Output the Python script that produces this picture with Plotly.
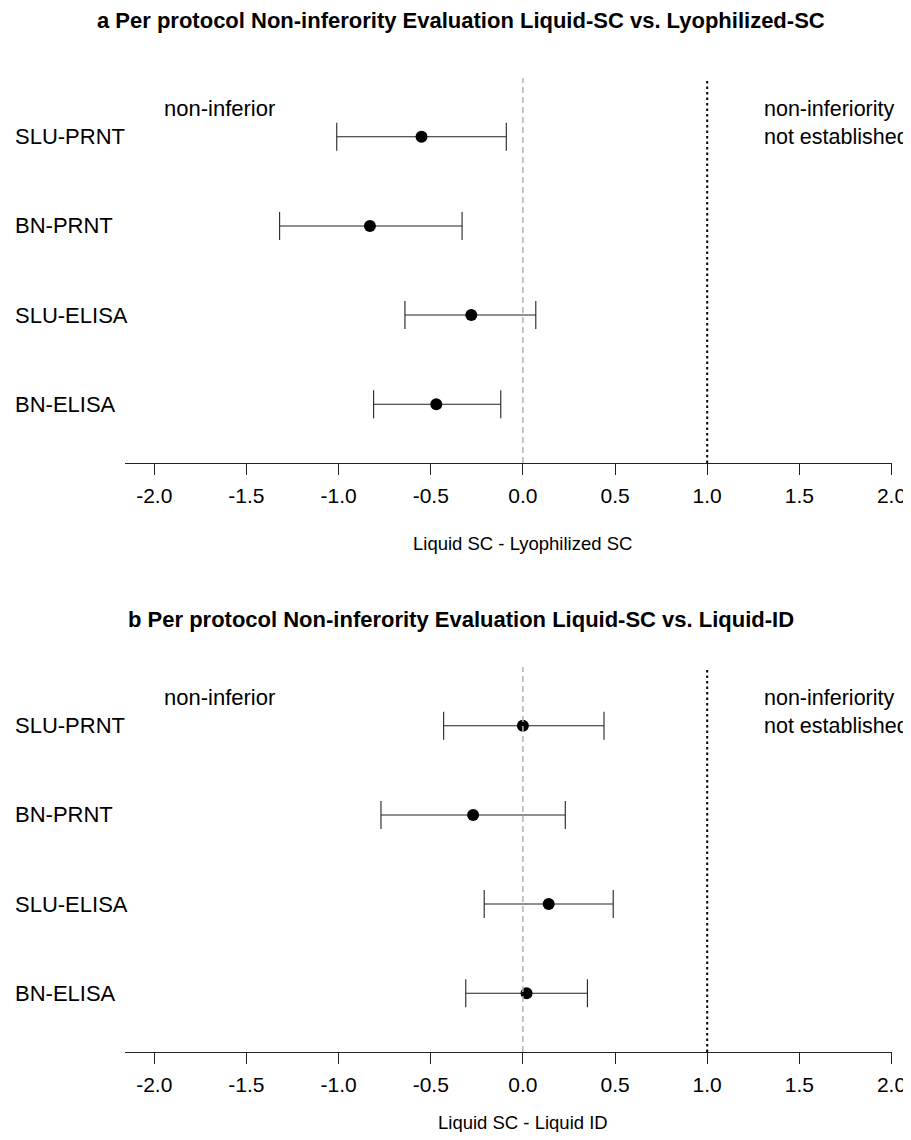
import plotly.graph_objects as go

# ---- data ----
categories = ["SLU-PRNT", "BN-PRNT", "SLU-ELISA", "BN-ELISA"]

a_est = [-0.55, -0.83, -0.28, -0.47]
a_lo = [-1.01, -1.32, -0.64, -0.81]
a_hi = [-0.09, -0.33, 0.07, -0.12]

b_est = [0.00, -0.27, 0.14, 0.02]
b_lo = [-0.43, -0.77, -0.21, -0.31]
b_hi = [0.44, 0.23, 0.49, 0.35]

tick_vals = [-2.0, -1.5, -1.0, -0.5, 0.0, 0.5, 1.0, 1.5, 2.0]
tick_labels = ["-2.0", "-1.5", "-1.0", "-0.5", "0.0", "0.5", "1.0", "1.5", "2.0"]

titles = ["a Per protocol Non-inferority Evaluation Liquid-SC vs. Lyophilized-SC",
          "b Per protocol Non-inferority Evaluation Liquid-SC vs. Liquid-ID"]
xlabels = ["Liquid SC - Lyophilized SC", "Liquid SC - Liquid ID"]
margin_value = 1.0

# ---- layout geometry ----
# the page body has an 8px margin; the figure starts at (8, 8) and reaches the window's right edge
OFF = 8
W, H = 911 - OFF, 1140 - 2 * OFF
FONT = "Liberation Sans, Arial, Helvetica, sans-serif"

def py(p):  # window pixel from top -> paper y
    return 1 - (p - OFF) / H

def px(p):  # window pixel from left -> paper x
    return (p - OFF) / W

x_dom = [px(124.8), px(891.5)]
panels = [
    dict(top=78, bottom=463, title_y=20.5, xlabel_y=543),
    dict(top=667, bottom=1052, title_y=619.5, xlabel_y=1122),
]

order = categories[::-1]

fig = go.Figure()
datasets = [(a_est, a_lo, a_hi), (b_est, b_lo, b_hi)]

annotations = []
shapes = []
for i, ((est, lo, hi), pan) in enumerate(zip(datasets, panels)):
    xa = "x" if i == 0 else "x2"
    ya = "y" if i == 0 else "y2"
    fig.add_trace(go.Scatter(
        x=est, y=categories, xaxis=xa, yaxis=ya, mode="markers",
        marker=dict(color="black", size=12),
        error_x=dict(type="data", symmetric=False,
                     array=[h - e for h, e in zip(hi, est)],
                     arrayminus=[e - l for e, l in zip(est, lo)],
                     color="#222222", thickness=1.1, width=14),
        showlegend=False, hoverinfo="skip"))

    axis_x = dict(domain=x_dom, range=[-2.16, 2.0], tickmode="array",
                  tickvals=tick_vals, ticktext=tick_labels, showgrid=False,
                  zeroline=False, showline=True, linecolor="#222222", linewidth=1.2,
                  ticks="outside", ticklen=10.5, tickwidth=1.1, tickcolor="#222222",
                  tickfont=dict(family=FONT, size=21, color="black"),
                  ticklabelstandoff=3, automargin=False, fixedrange=True)
    axis_y = dict(domain=[py(pan["bottom"]), py(pan["top"])], type="category",
                  categoryorder="array", categoryarray=order,
                  range=[-0.66, 3.66], showgrid=False, zeroline=False,
                  showline=False, showticklabels=False, ticks="",
                  automargin=False, fixedrange=True)
    if i == 0:
        axis_y["anchor"] = "x"
        axis_x["anchor"] = "y"
        fig.update_layout(xaxis=axis_x, yaxis=axis_y)
    else:
        axis_y["anchor"] = "x2"
        axis_x["anchor"] = "y2"
        fig.update_layout(xaxis2=axis_x, yaxis2=axis_y)

    # reference lines
    shapes.append(dict(type="line", xref=xa, yref=ya + " domain", x0=0, x1=0, y0=0, y1=1,
                       line=dict(color="#b3b3b3", width=1.5, dash="6px,4px"), layer="above"))
    shapes.append(dict(type="line", xref=xa, yref=ya + " domain", x0=margin_value, x1=margin_value,
                       y0=0, y1=1, line=dict(color="black", width=2, dash="2.5px,3px"),
                       layer="above"))

    # row labels
    for c in categories:
        annotations.append(dict(text=c, xref="paper", yref=ya, x=px(12.5), y=c,
                                xanchor="left", yanchor="middle", showarrow=False,
                                font=dict(family=FONT, size=22, color="black")))
    annotations.append(dict(text="non-inferior", xref=xa, yref=ya, x=-1.645, y=3.32,
                            xanchor="center", yanchor="middle", showarrow=False,
                            font=dict(family=FONT, size=22, color="black")))
    annotations.append(dict(text="non-inferiority<br>not established", xref=xa, yref=ya,
                            x=1.3, y=3.155, xanchor="left", yanchor="middle", align="left",
                            showarrow=False,
                            font=dict(family=FONT, size=21.5, color="black")))
    # title
    annotations.append(dict(text="<b>" + titles[i] + "</b>", xref="paper", yref="paper",
                            x=px(461), y=py(pan["title_y"]), xanchor="center",
                            yanchor="middle", showarrow=False,
                            font=dict(family=FONT, size=22, color="black")))
    # x label
    annotations.append(dict(text=xlabels[i], xref=xa, yref="paper",
                            x=0.0, y=py(pan["xlabel_y"]), xanchor="center",
                            yanchor="middle", showarrow=False,
                            font=dict(family=FONT, size=18.5, color="black")))

fig.update_layout(width=W, height=H, margin=dict(l=0, r=0, t=0, b=0, autoexpand=False),
                  paper_bgcolor="white", plot_bgcolor="white",
                  annotations=annotations, shapes=shapes,
                  font=dict(family=FONT, color="black"))

fig.write_html("out.html", config={"displayModeBar": False})
